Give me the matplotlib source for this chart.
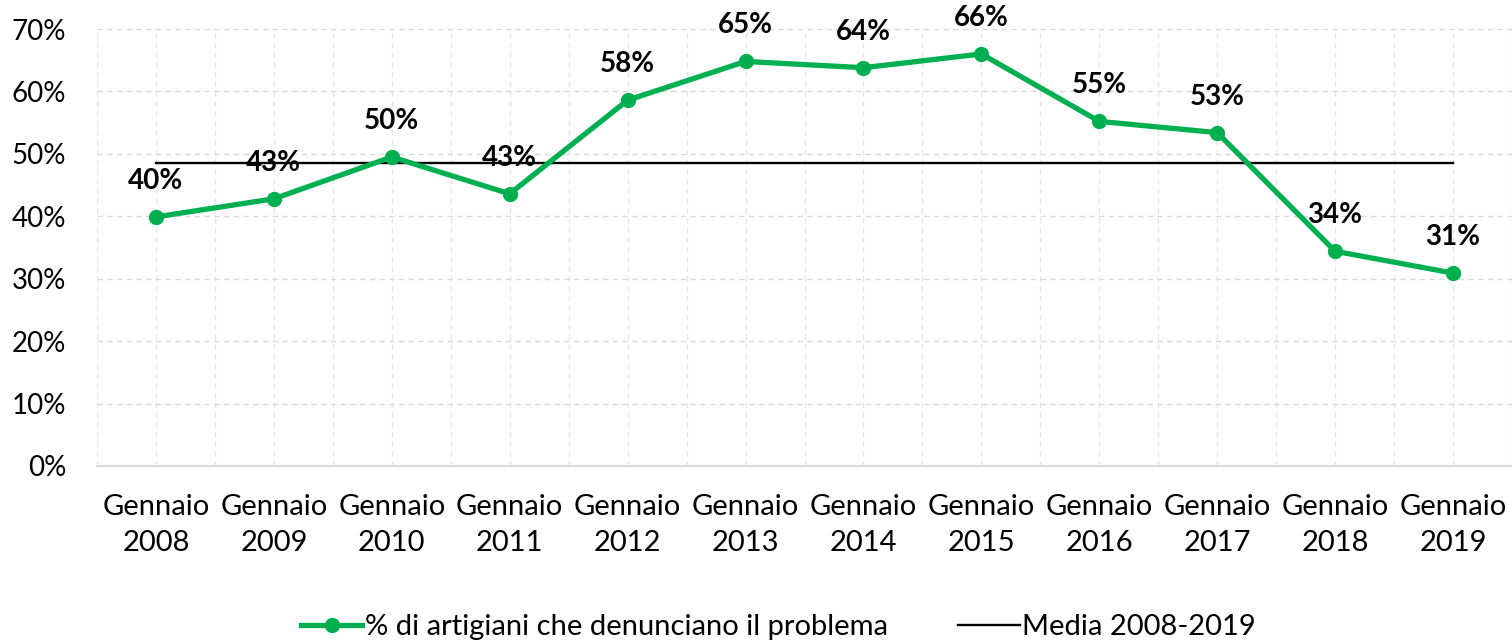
import numpy as np
import matplotlib.pyplot as plt

plt.rcParams['font.family'] = ['Lato', 'DejaVu Sans']

# Data
anni = ['2008', '2009', '2010', '2011', '2012', '2013',
        '2014', '2015', '2016', '2017', '2018', '2019']
quota = [39.9, 42.8, 49.5, 43.6, 58.6, 64.8, 63.8, 66.0, 55.2, 53.4, 34.4, 30.9]
etichette = ['40%', '43%', '50%', '43%', '58%', '65%',
             '64%', '66%', '55%', '53%', '34%', '31%']
media = 48.6

x = np.arange(len(anni))
y = np.array(quota) / 100

fig = plt.figure(figsize=(15.12, 6.4), dpi=100)
ax = fig.add_axes([97 / 1512, 1 - 466 / 640, 1 - 97 / 1512, (466 - 29) / 640])

green = '#00B050'
ax.plot(x, y, color=green, lw=3.8, marker='o', ms=10, zorder=3,
        label='% di artigiani che denunciano il problema')
ax.plot(x, np.full(len(x), media / 100), color='black', lw=1.7, zorder=2,
        label='Media 2008-2019')

for xi, yi, t in zip(x, y, etichette):
    ax.annotate(t, (xi, yi), xytext=(0, 26), textcoords='offset points',
                ha='center', va='center', fontsize=20, fontweight='bold')

ax.set_xlim(-0.5, 11.47)
ax.set_ylim(0, 0.7)
yt = np.arange(0, 0.71, 0.1)
ax.set_yticks(yt)
ax.set_yticklabels([f'{int(round(v * 100))}%' for v in yt])
ax.set_xticks(x)
ax.set_xticklabels([f'Gennaio\n{a}' for a in anni], linespacing=1.5, fontsize=21)
ax.set_xticks(np.arange(-0.5, 11.6, 1.0), minor=True)

ax.tick_params(axis='both', which='both', length=0)
ax.tick_params(axis='y', labelsize=20, pad=22)
ax.tick_params(axis='x', pad=20)

ax.grid(axis='y', which='major', color='#d9d9d9', ls=(0, (4, 3)), lw=1)
ax.grid(axis='x', which='both', color='#e6e6e6', ls=(0, (4, 3)), lw=1)
for s in ['left', 'right', 'top']:
    ax.spines[s].set_visible(False)
ax.spines['bottom'].set_color('#d9d9d9')
ax.spines['bottom'].set_linewidth(1.5)

fig.legend(loc='center', bbox_to_anchor=(0.515, 1 - 627 / 640), ncol=2,
           frameon=False, fontsize=21, handlelength=2.1, handletextpad=0.1,
           columnspacing=2.4)

fig.savefig('out.png', dpi=100)
